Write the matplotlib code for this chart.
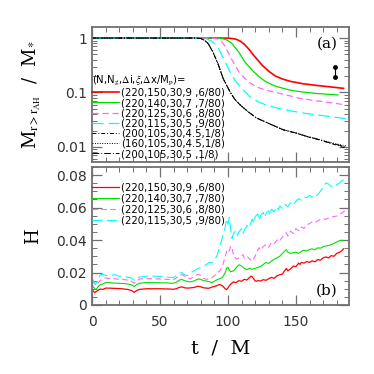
import numpy as np
import matplotlib
matplotlib.use("Agg")
import matplotlib.pyplot as plt
from matplotlib.ticker import MultipleLocator, LogLocator, NullFormatter, FixedLocator, FixedFormatter

# ---- top panel: M(r>r_AH)/M_* vs t ----
t_red = [0, 95, 100, 103, 106, 109, 112, 115, 119, 125, 130, 135, 140, 146, 155, 165, 175, 185]
m_red = [1, 1, 0.995, 0.98, 0.95, 0.88, 0.77, 0.64, 0.48, 0.32, 0.245, 0.20, 0.177, 0.16, 0.145, 0.135, 0.127, 0.119]
t_grn = [0, 92, 96, 100, 103, 108, 112.5, 119, 124, 128, 135, 146, 155, 165, 181]
m_grn = [1, 1, 0.98, 0.90, 0.79, 0.55, 0.36, 0.24, 0.185, 0.157, 0.13, 0.11, 0.102, 0.096, 0.09]
t_mag = [0, 88, 92, 96.5, 100, 105, 108, 112.5, 116, 121, 127, 133, 143, 153, 162, 170, 187]
m_mag = [1, 1, 0.97, 0.80, 0.55, 0.32, 0.24, 0.18, 0.15, 0.127, 0.112, 0.103, 0.09, 0.078, 0.072, 0.068, 0.059]
t_cyn = [0, 80, 84, 88, 92, 96.5, 101.5, 105, 109, 116, 122, 128, 136, 146, 158, 170, 187]
m_cyn = [1, 1, 0.97, 0.88, 0.72, 0.43, 0.24, 0.17, 0.127, 0.084, 0.068, 0.059, 0.052, 0.046, 0.041, 0.0375, 0.033]
t_blk = [0, 76, 80, 83, 85.5, 89, 93, 96.5, 101.5, 105, 109, 115, 121, 130, 140.7, 150, 158, 167, 175, 181, 187]
m_blk1 = [1, 1, 0.98, 0.90, 0.79, 0.55, 0.32, 0.18, 0.103, 0.075, 0.059, 0.044, 0.034, 0.027, 0.0206, 0.018, 0.0155, 0.0135, 0.0117, 0.0106, 0.0094]
m_blk2 = [1, 1, 0.98, 0.90, 0.79, 0.55, 0.32, 0.18, 0.103, 0.075, 0.059, 0.044, 0.034, 0.027, 0.0207, 0.0181, 0.0157, 0.0138, 0.0121, 0.0112, 0.0104]
m_blk3 = [1, 1, 0.98, 0.90, 0.79, 0.55, 0.32, 0.18, 0.103, 0.075, 0.059, 0.044, 0.034, 0.027, 0.0206, 0.018, 0.0156, 0.0136, 0.0119, 0.0109, 0.0100]
err_t = [179, 179]
err_m = [0.19, 0.29]

labels = ["(220,150,30,9 ,6/80)", "(220,140,30,7 ,7/80)", "(220,125,30,6 ,8/80)",
          "(220,115,30,5 ,9/80)", "(200,105,30,4.5,1/8)", "(160,105,30,4.5,1/8)",
          "(200,105,30,5 ,1/8)"]

# ---- bottom panel: H vs t ----
h_t_red = [0, 1, 2, 3, 4, 6, 8, 10, 12, 15, 18, 22, 26, 29, 31, 33, 35, 40, 45, 50, 55, 60, 62, 64, 66, 68, 70, 72, 75, 78, 80, 82, 84, 86, 88, 90, 92, 94, 96, 98, 99, 100, 101, 102, 104, 106, 108, 110, 112, 114, 116, 117, 118, 119, 120, 121, 122, 124, 126, 128, 130, 132, 134, 136, 138, 140, 142, 143, 144, 146, 148, 150, 152, 153, 154, 156, 158, 160, 162, 164, 166, 168, 170, 172, 174, 176, 178, 180, 182, 184, 185]
h_red = [0.0095, 0.0085, 0.0076, 0.0082, 0.0088, 0.0098, 0.0096, 0.0104, 0.0104, 0.0103, 0.0102, 0.0100, 0.0096, 0.0090, 0.0078, 0.0090, 0.0096, 0.0100, 0.0100, 0.0100, 0.0099, 0.0097, 0.0100, 0.0108, 0.0112, 0.0106, 0.0104, 0.0105, 0.0108, 0.0116, 0.0112, 0.0106, 0.0104, 0.0103, 0.0110, 0.0114, 0.0120, 0.0126, 0.0118, 0.0100, 0.0095, 0.0105, 0.0118, 0.0128, 0.0142, 0.0138, 0.0150, 0.0146, 0.0158, 0.0154, 0.0170, 0.0178, 0.0172, 0.0160, 0.0148, 0.0146, 0.0150, 0.0148, 0.0156, 0.0152, 0.0162, 0.0170, 0.0164, 0.0180, 0.0186, 0.0190, 0.0215, 0.0225, 0.0210, 0.0222, 0.0240, 0.0236, 0.0258, 0.0250, 0.0262, 0.0258, 0.0268, 0.0262, 0.0272, 0.0266, 0.0280, 0.0276, 0.0290, 0.0296, 0.0290, 0.0304, 0.0300, 0.0318, 0.0324, 0.0336, 0.0346]
h_t_grn = [0, 1, 2, 3, 4, 6, 8, 10, 12, 15, 18, 22, 26, 29, 31, 33, 35, 40, 45, 50, 55, 60, 62, 64, 66, 68, 70, 72, 75, 78, 80, 82, 84, 86, 88, 90, 92, 94, 96, 98, 99, 100, 101, 102, 104, 106, 108, 110, 112, 114, 116, 118, 120, 122, 124, 126, 128, 130, 132, 134, 136, 138, 140, 142, 143, 144, 146, 148, 150, 152, 154, 156, 158, 160, 162, 164, 166, 168, 170, 172, 174, 176, 178, 180, 182, 184]
h_grn = [0.0125, 0.0112, 0.0100, 0.0096, 0.0108, 0.0125, 0.0130, 0.0138, 0.0138, 0.0136, 0.0134, 0.0133, 0.0130, 0.0124, 0.0114, 0.0126, 0.0134, 0.0138, 0.0138, 0.0137, 0.0136, 0.0134, 0.0140, 0.0152, 0.0158, 0.0150, 0.0146, 0.0142, 0.0148, 0.0160, 0.0158, 0.0150, 0.0148, 0.0144, 0.0138, 0.0146, 0.0156, 0.0162, 0.0170, 0.0200, 0.0226, 0.0232, 0.0215, 0.0205, 0.0210, 0.0228, 0.0248, 0.0240, 0.0225, 0.0218, 0.0226, 0.0220, 0.0226, 0.0232, 0.0236, 0.0250, 0.0262, 0.0256, 0.0270, 0.0282, 0.0290, 0.0300, 0.0316, 0.0335, 0.0340, 0.0326, 0.0318, 0.0322, 0.0325, 0.0318, 0.0330, 0.0338, 0.0332, 0.0342, 0.0346, 0.0340, 0.0352, 0.0350, 0.0358, 0.0364, 0.0366, 0.0372, 0.0380, 0.0388, 0.0396, 0.0398]
h_t_mag = [0, 1, 2, 3, 4, 6, 8, 10, 12, 15, 18, 22, 26, 29, 31, 33, 35, 40, 45, 50, 55, 60, 62, 64, 66, 68, 70, 72, 75, 78, 80, 82, 84, 86, 88, 90, 92, 94, 96, 98, 99, 100, 101, 102, 103, 104, 106, 108, 110, 111, 112, 114, 116, 118, 120, 122, 123, 124, 126, 128, 130, 132, 134, 136, 138, 140, 142, 143, 144, 146, 148, 150, 152, 154, 156, 158, 160, 162, 164, 166, 168, 170, 172, 174, 176, 178, 180, 182, 184, 186]
h_mag = [0.0150, 0.0140, 0.0128, 0.0120, 0.0130, 0.0152, 0.0158, 0.0166, 0.0164, 0.0162, 0.0160, 0.0158, 0.0154, 0.0146, 0.0134, 0.0148, 0.0160, 0.0162, 0.0162, 0.0160, 0.0158, 0.0156, 0.0166, 0.0182, 0.0188, 0.0178, 0.0172, 0.0160, 0.0176, 0.0190, 0.0182, 0.0164, 0.0158, 0.0160, 0.0166, 0.0180, 0.0196, 0.0210, 0.0240, 0.0300, 0.0330, 0.0320, 0.0335, 0.0362, 0.0350, 0.0310, 0.0282, 0.0290, 0.0300, 0.0310, 0.0290, 0.0300, 0.0282, 0.0270, 0.0300, 0.0340, 0.0352, 0.0338, 0.0360, 0.0372, 0.0355, 0.0385, 0.0378, 0.0400, 0.0392, 0.0420, 0.0440, 0.0445, 0.0425, 0.0455, 0.0440, 0.0470, 0.0458, 0.0480, 0.0472, 0.0496, 0.0500, 0.0512, 0.0508, 0.0518, 0.0526, 0.0530, 0.0528, 0.0536, 0.0540, 0.0545, 0.0548, 0.0556, 0.0568, 0.0580]
h_t_cyn = [0, 1, 2, 3, 4, 6, 8, 10, 12, 15, 18, 20, 22, 26, 29, 31, 33, 35, 40, 45, 50, 55, 60, 62, 64, 66, 68, 70, 72, 75, 78, 80, 82, 84, 86, 88, 90, 92, 94, 96, 98, 99, 100, 101, 102, 103, 104, 106, 107, 108, 110, 111, 112, 114, 116, 117, 118, 119, 120, 122, 123, 124, 126, 127, 128, 130, 131, 132, 134, 136, 137, 138, 140, 142, 144, 146, 148, 150, 152, 154, 156, 158, 160, 162, 164, 166, 168, 170, 172, 174, 176, 178, 180, 182, 184, 186]
h_cyn = [0.0165, 0.0150, 0.0136, 0.0130, 0.0145, 0.0185, 0.0190, 0.0182, 0.0180, 0.0186, 0.0184, 0.0176, 0.0180, 0.0172, 0.0166, 0.0152, 0.0166, 0.0172, 0.0176, 0.0178, 0.0176, 0.0172, 0.0168, 0.0180, 0.0196, 0.0200, 0.0186, 0.0180, 0.0196, 0.0210, 0.0226, 0.0230, 0.0240, 0.0248, 0.0262, 0.0260, 0.0275, 0.0305, 0.0360, 0.0420, 0.0480, 0.0530, 0.0500, 0.0540, 0.0470, 0.0410, 0.0440, 0.0460, 0.0430, 0.0450, 0.0470, 0.0440, 0.0460, 0.0490, 0.0480, 0.0510, 0.0530, 0.0505, 0.0545, 0.0560, 0.0520, 0.0550, 0.0570, 0.0540, 0.0565, 0.0580, 0.0550, 0.0590, 0.0575, 0.0605, 0.0585, 0.0610, 0.0595, 0.0620, 0.0605, 0.0630, 0.0615, 0.0640, 0.0655, 0.0645, 0.0665, 0.0660, 0.0675, 0.0665, 0.0660, 0.0680, 0.0700, 0.0720, 0.0752, 0.0745, 0.0730, 0.0720, 0.0740, 0.0750, 0.0768, 0.0772]

red = "#ff0000"
grn = "#00e000"
mag = "#ff66ff"
cyn = "#00ffff"
frame = "#707070"

plt.rcParams['font.family'] = ['DejaVu Sans']
plt.rcParams['mathtext.fontset'] = 'stix'

fig = plt.figure(figsize=(3.74, 3.74), dpi=100)
ax1 = fig.add_axes([0.246, 0.567, 0.687, 0.361])
ax2 = fig.add_axes([0.246, 0.1845, 0.687, 0.369])

ax1.plot(t_red, m_red, color=red, lw=1.2, label=labels[0])
ax1.plot(t_grn, m_grn, color=grn, lw=0.9, label=labels[1])
ax1.plot(t_mag, m_mag, color=mag, lw=0.9, dashes=(5, 3), label=labels[2])
ax1.plot(t_cyn, m_cyn, color=cyn, lw=0.9, dashes=(9, 4), label=labels[3])
ax1.plot(t_blk, m_blk1, color='k', lw=0.7, dashes=(4, 2, 1, 2), label=labels[4])
ax1.plot(t_blk, m_blk2, color='k', lw=0.7, dashes=(1, 1.5), label=labels[5])
ax1.plot(t_blk, m_blk3, color='k', lw=0.7, dashes=(7, 2, 1, 2), label=labels[6])
ax1.plot(err_t, err_m, color='k', lw=0.8, marker='o', ms=2.5)

ax1.set_yscale('log')
ax1.set_xlim(0, 189)
ax1.set_ylim(0.0053, 1.6)
ax1.yaxis.set_major_locator(FixedLocator([0.01, 0.1, 1]))
ax1.yaxis.set_major_formatter(FixedFormatter(['0.01', '0.1', '1']))
ax1.yaxis.set_minor_locator(LogLocator(base=10, subs=np.arange(2, 10)))
ax1.yaxis.set_minor_formatter(NullFormatter())
ax1.set_xticklabels([])
ax1.set_ylabel(r"M$_{\rm r>r_{AH}}$  /  M$_{*}$", family='serif', fontsize=13, labelpad=10)
leg1 = ax1.legend(loc='upper left', bbox_to_anchor=(0.0, 0.655), frameon=False, fontsize=7.3,
                  title=r"(N,N$_{\rm g}$,$\Delta$i,$\xi$,$\Delta$x/M$_{\rm p}$)=", title_fontsize=7.3,
                  alignment='left', handlelength=2.7, handletextpad=0.2, labelspacing=0.02,
                  borderpad=0, borderaxespad=0)
ax1.text(0.955, 0.93, "(a)", transform=ax1.transAxes, ha='right', va='top', family='serif', fontsize=11)

ax2.plot(h_t_red, h_red, color=red, lw=0.9, label=labels[0])
ax2.plot(h_t_grn, h_grn, color=grn, lw=0.8, label=labels[1])
ax2.plot(h_t_mag, h_mag, color=mag, lw=0.8, dashes=(5, 3), label=labels[2])
ax2.plot(h_t_cyn, h_cyn, color=cyn, lw=0.8, dashes=(9, 4), label=labels[3])
ax2.set_xlim(0, 189)
ax2.set_ylim(0, 0.085)
ax2.xaxis.set_major_locator(MultipleLocator(50))
ax2.xaxis.set_minor_locator(MultipleLocator(10))
ax2.yaxis.set_major_locator(MultipleLocator(0.02))
ax2.yaxis.set_minor_locator(MultipleLocator(0.005))
ax2.set_yticks([0, 0.02, 0.04, 0.06, 0.08])
ax2.set_yticklabels(['0', '0.02', '0.04', '0.06', '0.08'])
ax2.set_ylabel("H", family='serif', fontsize=13, labelpad=10)
ax2.set_xlabel("t  /  M", family='serif', fontsize=14, labelpad=8)
ax2.legend(loc='upper left', bbox_to_anchor=(0.0, 0.89), frameon=False, fontsize=7.3,
           handlelength=2.7, handletextpad=0.2, labelspacing=0.1, borderpad=0, borderaxespad=0)
ax2.text(0.955, 0.05, "(b)", transform=ax2.transAxes, ha='right', va='bottom', family='serif', fontsize=11)

ax1.xaxis.set_major_locator(MultipleLocator(50))
ax1.xaxis.set_minor_locator(MultipleLocator(10))
for ax in (ax1, ax2):
    for s in ax.spines.values():
        s.set_color(frame)
        s.set_linewidth(1.3)
    ax.tick_params(which='both', direction='in', top=True, right=True, color=frame, labelsize=10,
                   labelcolor='#333333')
    ax.tick_params(which='major', length=7, width=0.9)
    ax.tick_params(which='minor', length=3.5, width=0.7)
ax2.tick_params(axis='x', which='major', pad=7)

fig.savefig("out.png", dpi=100)
